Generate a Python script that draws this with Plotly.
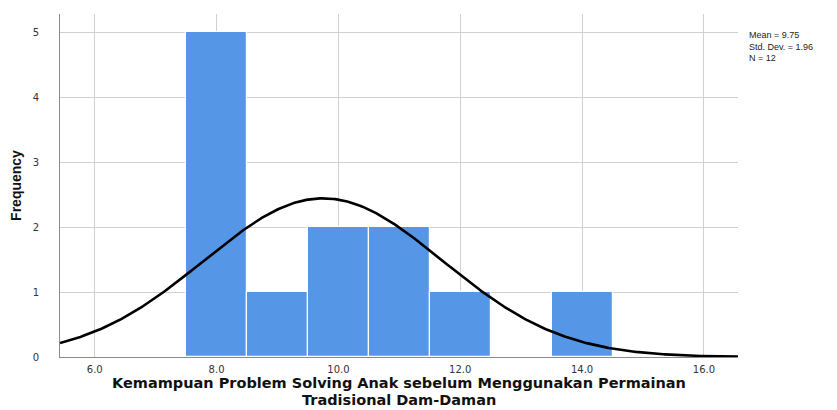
import numpy as np
import plotly.graph_objects as go

# Data
bin_centers = [8, 9, 10, 11, 12, 14]
frequencies = [5, 1, 2, 2, 1, 1]
mean_val = 9.75
std_val = 1.96
n_val = 12
bin_width = 1.0
x_tick_vals = [6, 8, 10, 12, 14, 16]
x_tick_text = ["6.0", "8.0", "10.0", "12.0", "14.0", "16.0"]
y_tick_vals = [0, 1, 2, 3, 4, 5]
x_title_lines = ["Kemampuan Problem Solving Anak sebelum Menggunakan Permainan",
                 "Tradisional Dam-Daman"]

x_range = [5.43, 16.56]
y_range = [0, 5.28]

# normal curve scaled to counts
xc = np.linspace(x_range[0], x_range[1], 400)
yc = n_val * bin_width / (std_val * np.sqrt(2 * np.pi)) * np.exp(-0.5 * ((xc - mean_val) / std_val) ** 2)

fig = go.Figure()
fig.add_trace(go.Bar(
    x=bin_centers, y=frequencies, width=bin_width,
    marker=dict(color="#5596E6", line=dict(color="white", width=1.2)),
    hoverinfo="skip",
))
fig.add_trace(go.Scatter(
    x=xc, y=yc, mode="lines", line=dict(color="black", width=2.6), hoverinfo="skip",
))

# page body has ~8px margin, compensate
L, T, PB, PR = 52, 6, 349, 730
fig.update_layout(
    width=837, height=410,
    margin=dict(l=L, r=837 - PR, t=T, b=410 - PB),
    paper_bgcolor="white", plot_bgcolor="white",
    showlegend=False,
    bargap=0,
    font=dict(family="Liberation Sans, Arial, sans-serif", color="#222"),
)
fig.update_xaxes(
    range=x_range, tickvals=x_tick_vals, ticktext=x_tick_text,
    showgrid=True, gridcolor="#d0d0d0", gridwidth=1,
    showline=True, linecolor="#8a8a8a", linewidth=1,
    ticks="", tickfont=dict(size=10, color="#333", family="DejaVu Sans"), ticklabelstandoff=3,
    zeroline=False,
)
fig.update_yaxes(
    range=y_range, tickvals=y_tick_vals,
    showgrid=True, gridcolor="#d0d0d0", gridwidth=1,
    showline=True, linecolor="#8a8a8a", linewidth=1,
    ticks="", tickfont=dict(size=10, color="#333", family="DejaVu Sans"), ticklabelstandoff=18,
    zeroline=False,
    title=dict(text="<b>Frequency</b>", font=dict(size=14, family="Liberation Sans Narrow, Liberation Sans, Arial", color="#111"), standoff=8),
)

ph = PB - T
# x-axis title (two lines)
for s, yc_px in zip(x_title_lines, [374.5, 392]):
    fig.add_annotation(text=f"<b>{s}</b>",
                       xref="paper", yref="paper", x=0.5, y=(PB - yc_px) / ph,
                       xanchor="center", yanchor="middle", showarrow=False,
                       font=dict(size=14.5, color="#111", family="DejaVu Sans"))

# stats text
stats = f"Mean = {mean_val}<br>Std. Dev. = {std_val}<br>N = {n_val}"
fig.add_annotation(text=stats, xref="paper", yref="paper", x=(739 - L) / (PR - L), y=(PB - 38) / ph,
                   xanchor="left", yanchor="middle", align="left", showarrow=False,
                   font=dict(size=9, color="#222"))

fig.write_html("out.html")
